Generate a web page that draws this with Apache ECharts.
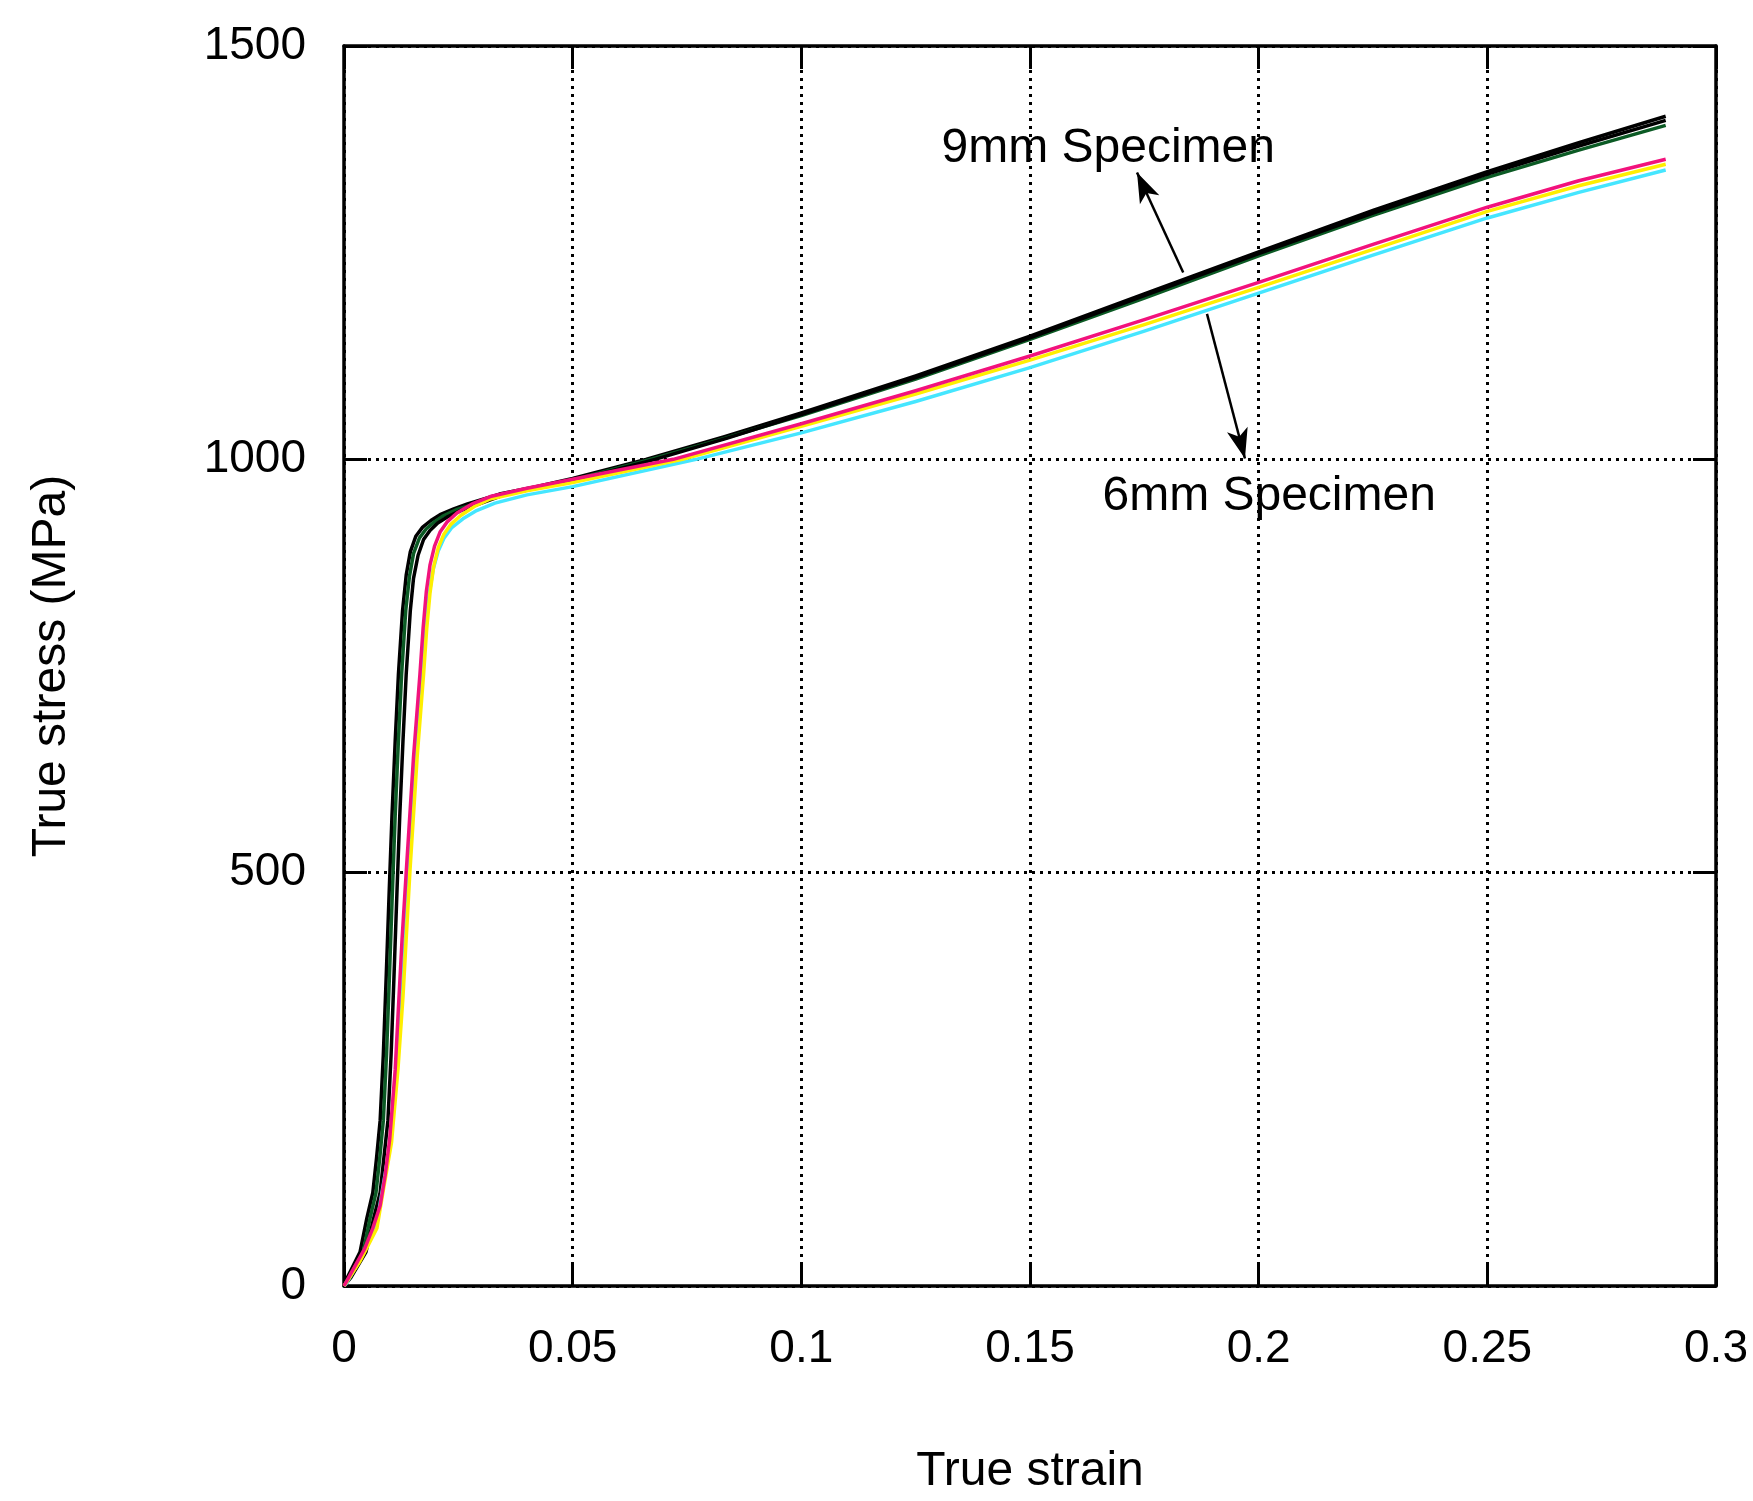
<!DOCTYPE html>
<html>
<head>
<meta charset="utf-8">
<title>True stress - true strain</title>
<script src="https://cdn.jsdelivr.net/npm/echarts@6/dist/echarts.min.js"></script>
<style>
  html, body { margin: 0; padding: 0; background: #fff; }
  #chart { width: 1753px; height: 1501px; }
</style>
</head>
<body>
<div id="chart"></div>
<script>
// 9mm specimens: [true strain, true stress (MPa)]
const spec9a = [[0, 0], [0.0007, 10], [0.0035, 41], [0.005, 82], [0.0063, 113], [0.0071, 154], [0.0079, 200],
  [0.0086, 280], [0.0092, 370], [0.0099, 480], [0.0105, 570], [0.0112, 660], [0.0119, 740], [0.0128, 817],
  [0.0136, 860], [0.0145, 888], [0.0157, 907], [0.0172, 918], [0.019, 926], [0.021, 933], [0.024, 940],
  [0.027, 946], [0.034, 958], [0.042, 967], [0.05, 977], [0.066, 1000], [0.083, 1027], [0.1, 1056],
  [0.125, 1101], [0.15, 1149], [0.175, 1200], [0.2, 1251], [0.225, 1301], [0.25, 1348], [0.27, 1383],
  [0.289, 1415]]
const spec9b = [[0, 0], [0.001, 10], [0.0042, 41], [0.0057, 82], [0.007, 113], [0.0078, 154], [0.0086, 200],
  [0.0093, 280], [0.0099, 370], [0.0106, 480], [0.0112, 570], [0.0119, 660], [0.0126, 740], [0.0135, 817],
  [0.0143, 858], [0.0152, 886], [0.0165, 905], [0.018, 916], [0.0197, 924], [0.0215, 931], [0.0245, 939],
  [0.028, 945], [0.034, 957], [0.042, 966], [0.05, 975], [0.067, 1000], [0.083, 1025], [0.1, 1053],
  [0.125, 1097], [0.15, 1145], [0.175, 1195], [0.2, 1246], [0.225, 1295], [0.25, 1341], [0.27, 1374],
  [0.289, 1404]]
const spec9c = [[0, 0], [0.0015, 10], [0.0048, 41], [0.0065, 82], [0.0079, 113], [0.0087, 154], [0.0096, 200],
  [0.0103, 280], [0.0109, 370], [0.0116, 480], [0.0122, 570], [0.0129, 660], [0.0136, 740], [0.0145, 817],
  [0.0152, 856], [0.0162, 884], [0.0174, 903], [0.0188, 914], [0.0205, 923], [0.0225, 930], [0.0255, 938],
  [0.029, 945], [0.035, 957], [0.042, 965], [0.05, 974], [0.068, 1000], [0.084, 1026], [0.1, 1054],
  [0.125, 1099], [0.15, 1147], [0.175, 1198], [0.2, 1249], [0.225, 1298], [0.25, 1345], [0.27, 1379],
  [0.289, 1410]]
// 6mm specimens
const spec6a = [[0, 0], [0.0017, 17], [0.0045, 45], [0.0063, 70], [0.0079, 97], [0.009, 134], [0.01, 178],
  [0.0112, 262], [0.0118, 326], [0.0127, 420], [0.0136, 500], [0.0152, 640], [0.0166, 740], [0.0173, 796],
  [0.018, 840], [0.0188, 872], [0.0198, 895], [0.021, 912], [0.0225, 924], [0.0247, 935], [0.028, 946],
  [0.032, 955], [0.04, 965], [0.05, 976], [0.072, 1000], [0.1, 1043], [0.125, 1083], [0.15, 1125],
  [0.175, 1169], [0.2, 1214], [0.225, 1260], [0.25, 1305], [0.27, 1337], [0.289, 1363]]
const spec6b = [[0, 0], [0.0003, 2], [0.0035, 30], [0.0072, 70], [0.0085, 113], [0.0104, 174], [0.0118, 262],
  [0.0129, 350], [0.0144, 500], [0.016, 640], [0.0174, 740], [0.0181, 796], [0.0188, 838], [0.0196, 870],
  [0.0206, 893], [0.0218, 909], [0.0233, 921], [0.0255, 932], [0.0285, 943], [0.032, 952], [0.04, 962],
  [0.05, 972], [0.074, 1000], [0.1, 1040], [0.125, 1079], [0.15, 1120], [0.175, 1163], [0.2, 1208],
  [0.225, 1254], [0.25, 1300], [0.27, 1331], [0.289, 1357]]
const spec6c = [[0, 0], [0.0005, 3], [0.0035, 32], [0.007, 70], [0.0083, 113], [0.0102, 174], [0.0116, 262],
  [0.0127, 350], [0.0141, 500], [0.0157, 640], [0.0171, 740], [0.0178, 796], [0.0186, 836], [0.0195, 867],
  [0.0206, 889], [0.0219, 905], [0.0235, 917], [0.026, 928], [0.029, 938], [0.033, 947], [0.04, 957],
  [0.05, 967], [0.077, 1000], [0.1, 1032], [0.125, 1070], [0.15, 1111], [0.175, 1155], [0.2, 1201],
  [0.225, 1247], [0.25, 1292], [0.27, 1323], [0.289, 1350]]

const xTickLabels = ['0', '0.05', '0.1', '0.15', '0.2', '0.25', '0.3']
const yTickLabels = ['0', '500', '1000', '1500']

// annotation text and arrows (data coords)
const notes = [['9mm Specimen', 0.1671, 1376], ['6mm Specimen', 0.2023, 955]]
const arrows = [[[0.1835, 1226], [0.1734, 1347]], [[0.1887, 1176], [0.197, 1001]]]

const font = '"Liberation Sans", Arial, sans-serif'
const curves = [
  { name: '9mm-1', data: spec9a, color: '#000000' },
  { name: '9mm-2', data: spec9b, color: '#0b5a24' },
  { name: '9mm-3', data: spec9c, color: '#000000' },
  { name: '6mm-3', data: spec6c, color: '#45e6ff' },
  { name: '6mm-2', data: spec6b, color: '#ffee00' },
  { name: '6mm-1', data: spec6a, color: '#f2127c' }
]

const chart = echarts.init(document.getElementById('chart'))

const tickFmtX = v => xTickLabels[Math.round(v / 0.05)]
const tickFmtY = v => yTickLabels[Math.round(v / 500)]
const gridLine = { show: true, lineStyle: { color: '#000', width: 3, type: [3, 5] } }
const frameLine = { show: true, onZero: false, lineStyle: { color: '#000', width: 3.5 } }
const tickIn = { show: true, inside: true, length: 23, lineStyle: { color: '#000', width: 3 } }

const series = curves.map(c => ({
  name: c.name,
  type: 'line',
  data: c.data,
  showSymbol: false,
  lineStyle: { color: c.color, width: 3.5, join: 'round' },
  itemStyle: { color: c.color },
  z: 3
}))

series.push({
  type: 'line',
  data: [],
  silent: true,
  markLine: {
    silent: true,
    animation: false,
    symbol: ['none', 'arrow'],
    symbolSize: [16, 30],
    label: { show: false },
    lineStyle: { color: '#000', width: 2.5, type: 'solid' },
    data: arrows.map(a => [{ coord: a[0] }, { coord: a[1] }])
  },
  markPoint: {
    silent: true,
    animation: false,
    symbolSize: 0,
    label: {
      show: true,
      formatter: '{b}',
      color: '#000',
      fontFamily: font,
      fontSize: 48
    },
    data: notes.map(n => ({ name: n[0], coord: [n[1], n[2]] }))
  },
  z: 4
})

const option = {
  animation: false,
  backgroundColor: '#fff',
  grid: { left: 344, right: 37, top: 46, bottom: 210 },
  xAxis: [{
    type: 'value',
    min: 0,
    max: 0.3,
    interval: 0.05,
    name: 'True strain',
    nameLocation: 'middle',
    nameGap: 162,
    nameTextStyle: { color: '#000', fontFamily: font, fontSize: 48 },
    axisLine: frameLine,
    axisTick: tickIn,
    axisLabel: { formatter: tickFmtX, color: '#000', fontFamily: font, fontSize: 46, margin: 40 },
    splitLine: gridLine
  }, {
    type: 'value',
    position: 'top',
    min: 0,
    max: 0.3,
    interval: 0.05,
    axisLine: frameLine,
    axisTick: tickIn,
    axisLabel: { show: false },
    splitLine: { show: false }
  }],
  yAxis: [{
    type: 'value',
    min: 0,
    max: 1500,
    interval: 500,
    name: 'True stress (MPa)',
    nameLocation: 'middle',
    nameGap: 268,
    nameTextStyle: { color: '#000', fontFamily: font, fontSize: 48 },
    axisLine: frameLine,
    axisTick: tickIn,
    axisLabel: { formatter: tickFmtY, color: '#000', fontFamily: font, fontSize: 46, margin: 38 },
    splitLine: gridLine
  }, {
    type: 'value',
    position: 'right',
    min: 0,
    max: 1500,
    interval: 500,
    axisLine: frameLine,
    axisTick: tickIn,
    axisLabel: { show: false },
    splitLine: { show: false }
  }],
  series: series
}

chart.setOption(option)
window.addEventListener('resize', () => chart.resize())
</script>
</body>
</html>
